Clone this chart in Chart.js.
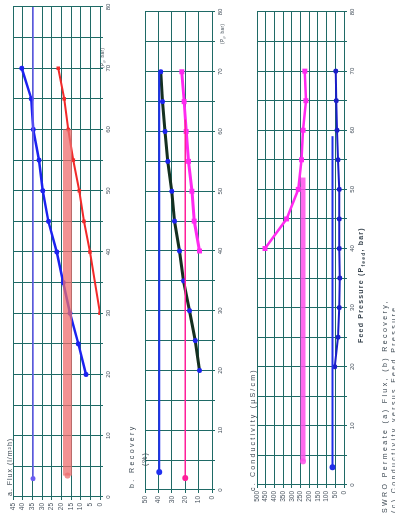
<!DOCTYPE html>
<html>
<head>
<meta charset="utf-8">
<script src="https://cdn.jsdelivr.net/npm/chart.js@4.4.1/dist/chart.umd.min.js"></script>
<style>
body { margin: 0; background: #fff; overflow: hidden; }
/* the figure is laid out upright and turned a quarter turn, like the scan */
#fig { position: absolute; left: 0; top: 0; width: 517px; height: 395px;
       transform-origin: 0 0; transform: rotate(-90deg) translateX(-517px);
       font-family: "Liberation Sans", Arial, sans-serif; color: #3a4650; }
#fig canvas { position: absolute; left: 0; }
.t { position: absolute; white-space: nowrap; font-size: 7px; line-height: 1; letter-spacing: 1px; }
</style>
</head>
<body>
<div id="fig">
  <canvas id="flux" width="517" height="122" style="top:0"></canvas>
  <canvas id="recovery" width="517" height="115" style="top:122px"></canvas>
  <canvas id="conductivity" width="517" height="130" style="top:237px"></canvas>

  <div class="t" style="left:21px;top:6px">a. Flux (l/m²h)</div>
  <div class="t" style="left:449px;top:101px;font-size:4.5px;letter-spacing:0.5px">(P<sub>f</sub>, bar)</div>
  <div class="t" style="left:29px;top:128px;letter-spacing:2.4px">b. Recovery</div>
  <div class="t" style="left:51px;top:141px">(%)</div>
  <div class="t" style="left:473px;top:221px;font-size:4.5px;letter-spacing:0.5px">(P<sub>f</sub>, bar)</div>
  <div class="t" style="left:26px;top:249px;letter-spacing:2.2px">c. Conductivity (µS/cm)</div>
  <div class="t" style="left:174px;top:357px;font-weight:bold;letter-spacing:1.2px">Feed Pressure (P<sub style="font-size:5px">feed</sub>, bar)</div>
  <div class="t" style="left:4px;top:381px;letter-spacing:2.4px">SWRO Permeate (a) Flux, (b) Recovery,</div>
  <div class="t" style="left:4px;top:390px;letter-spacing:2.4px">(c) Conductivity versus Feed Pressure</div>
</div>

<script>
// feed pressure, bar
const pressure = [20, 25, 30, 35, 40, 45, 50, 55, 60, 65, 70];
const pressureHigh = [40, 45, 50, 55, 60, 65, 70];

// (a) flux, l/m2h
const fluxBlue = [7.2, 11.2, 15.5, 19.0, 22.4, 26.7, 29.6, 31.5, 34.5, 35.5, 40.5];
const pressureRed = [30, 40, 45, 50, 55, 60, 65, 70];
const fluxRed = [0, 5.2, 8.3, 10.7, 13.8, 16.4, 18.5, 21.6];
const fluxRefBlueP = [3, 80];
const fluxRefBlue = [34.7, 34.7];
const fluxRefRedP = [3.5, 60];
const fluxRefRed = [16.8, 16.8];

// (b) recovery, %
const recoveryBlack = [9.3, 12.5, 16.8, 21.3, 24.3, 28.0, 30.0, 33.0, 35.0, 37.0, 38.3];
const recoveryPink = [9.3, 13.3, 15.0, 17.5, 19.3, 20.8, 22.5];
const recRefBlueP = [3, 70];
const recRefBlue = [39.3, 39.3];
const recRefPinkP = [2, 62];
const recRefPink = [20, 20];

// (c) conductivity, uS/cm
const condPink = [454, 330, 263, 244, 235, 219, 225];
const condBlue = [53, 34, 28, 25, 28, 28, 28, 34, 40, 44, 47.5];
const condRefPinkP = [4, 52];
const condRefPink = [235, 235];
const condRefBlueP = [3, 59];
const condRefBlue = [66, 66];

const pressureTicks = 5;
const gridColor = '#1f6a66';
const tickColor = '#4a5560';

Chart.defaults.animation = false;
Chart.defaults.font.family = '"Liberation Sans", Arial, sans-serif';

const pts = (xs, ys) => xs.map((x, i) => ({ x: x, y: ys[i] }));

function line(xs, ys, color, width, radius, style) {
  return {
    data: pts(xs, ys), showLine: true, borderColor: color, borderWidth: width,
    backgroundColor: color, pointRadius: radius, pointStyle: style || 'circle',
    pointBorderWidth: 0
  };
}

function refLine(xs, ys, color, width, radius) {
  const d = line(xs, ys, color, width, [radius, 0]);
  d.borderCapStyle = 'butt';
  return d;
}

function options(yMax, yStep, box) {
  return {
    responsive: false,
    layout: { padding: { top: box.top, right: box.right, left: 0, bottom: 0 } },
    plugins: { legend: { display: false }, tooltip: { enabled: false } },
    scales: {
      x: {
        type: 'linear', min: 0, max: 80,
        afterFit: s => { s.height = box.xh; },
        grid: { color: gridColor, lineWidth: 1, tickLength: 3 },
        border: { color: gridColor, width: 1 },
        ticks: {
          stepSize: pressureTicks, autoSkip: false, maxRotation: 0, minRotation: 0,
          color: tickColor, font: { size: 6 }, padding: 2,
          callback: v => (v % 10 === 0 ? v : '')
        }
      },
      y: {
        type: 'linear', min: 0, max: yMax,
        afterFit: s => { s.width = box.yw; },
        grid: { color: gridColor, lineWidth: 1, tickLength: 3 },
        border: { color: gridColor, width: 1 },
        ticks: { stepSize: yStep, autoSkip: false, color: tickColor, font: { size: 6.5 }, padding: 3 }
      }
    }
  };
}

new Chart(document.getElementById('flux'), {
  type: 'scatter',
  data: {
    datasets: [
      refLine(fluxRefRedP, fluxRefRed, 'rgba(238,110,110,0.75)', 9, 3),
      refLine(fluxRefBlueP, fluxRefBlue, '#6a5cf2', 1.5, 2.5),
      line(pressure, fluxBlue, '#1c22f0', 2.5, 2.5),
      line(pressureRed, fluxRed, '#f22a2a', 2, 2.5, 'rect')
    ]
  },
  options: options(45, 5, { top: 13, right: 7, xh: 22, yw: 20 })
});

new Chart(document.getElementById('recovery'), {
  type: 'scatter',
  data: {
    datasets: [
      refLine(recRefBlueP, recRefBlue, '#2030f0', 2, 3),
      refLine(recRefPinkP, recRefPink, '#ff1f9a', 1.5, 3),
      line(pressure, recoveryBlack, '#143020', 3, 2.5),
      line(pressureHigh, recoveryPink, '#ff2af0', 3, 3.5, 'rect')
    ]
  },
  options: options(50, 10, { top: 23, right: 12, xh: 25, yw: 27 })
});

// blue markers on the black curve
Chart.getChart('recovery').data.datasets[2].backgroundColor = '#1c22f0';
Chart.getChart('recovery').update();

new Chart(document.getElementById('conductivity'), {
  type: 'scatter',
  data: {
    datasets: [
      refLine(condRefPinkP, condRefPink, 'rgba(255,80,235,0.85)', 5, 3),
      refLine(condRefBlueP, condRefBlue, '#1f2fe8', 2, 3),
      line(pressureHigh, condPink, '#ff2af0', 2.5, 3.5, 'rect'),
      line(pressure, condBlue, '#1a1ec8', 2, 2.5)
    ]
  },
  options: options(500, 50, { top: 20, right: 12, xh: 23, yw: 32 })
});
</script>
</body>
</html>
